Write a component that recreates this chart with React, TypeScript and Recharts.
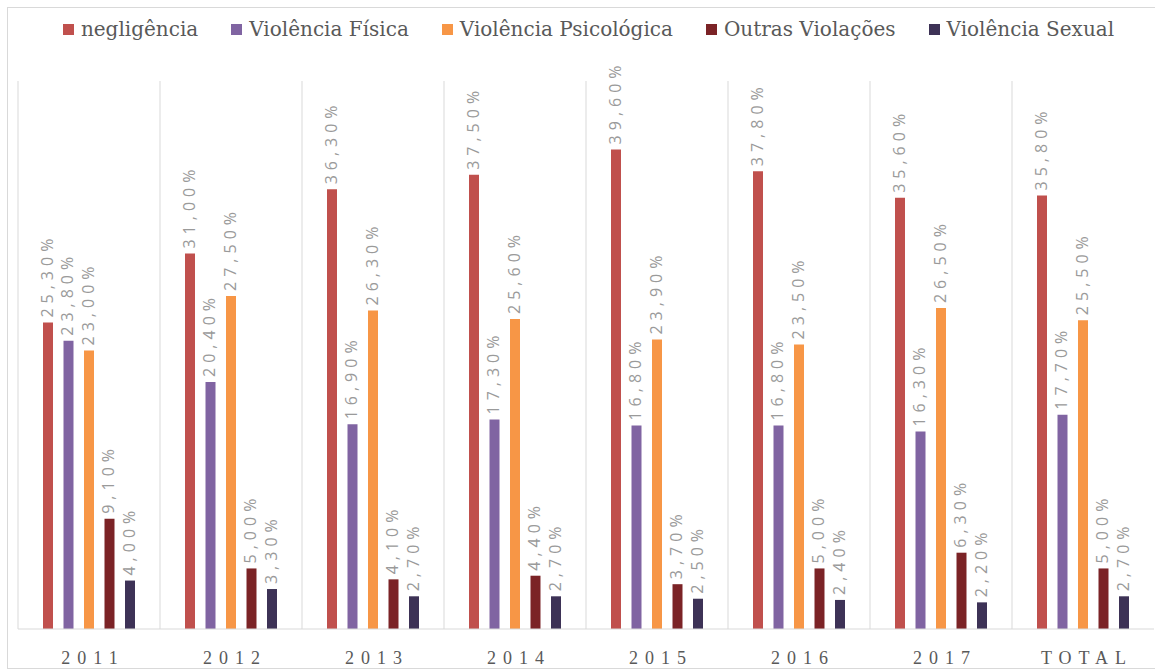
import { BarChart, Bar, XAxis, YAxis, Legend, LabelList } from "recharts";

const categories = ["2011", "2012", "2013", "2014", "2015", "2016", "2017", "TOTAL"];
const negligencia = [25.3, 31.0, 36.3, 37.5, 39.6, 37.8, 35.6, 35.8];
const violenciaFisica = [23.8, 20.4, 16.9, 17.3, 16.8, 16.8, 16.3, 17.7];
const violenciaPsicologica = [23.0, 27.5, 26.3, 25.6, 23.9, 23.5, 26.5, 25.5];
const outrasViolacoes = [9.1, 5.0, 4.1, 4.4, 3.7, 5.0, 6.3, 5.0];
const violenciaSexual = [4.0, 3.3, 2.7, 2.7, 2.5, 2.4, 2.2, 2.7];

const series = [
  { key: "neg", name: "negligência", color: "#c0504d", values: negligencia },
  { key: "fis", name: "Violência Física", color: "#8064a2", values: violenciaFisica },
  { key: "psi", name: "Violência Psicológica", color: "#f79646", values: violenciaPsicologica },
  { key: "out", name: "Outras Violações", color: "#7b2326", values: outrasViolacoes },
  { key: "sex", name: "Violência Sexual", color: "#3d3256", values: violenciaSexual },
];

const data = categories.map((c, i) => {
  const row: Record<string, string | number> = { category: c };
  series.forEach((s) => (row[s.key] = s.values[i]));
  return row;
});

const W = 1155;
const H = 672;
// plot area wanted: top ~84, bottom 629; legend and x axis (30px) are added by recharts
const M = { top: 60, right: 1, left: 18, bottom: 13 };
const PLOT_TOP = 84;
const BASE_Y = 629;
const BAND = (W - M.left - M.right) / categories.length;
const GRID = "#d9d9d9";

const fmt = (v: number) => v.toFixed(2).replace(".", ",") + "%";

function ValueLabel(props: any) {
  const { x, y, width, value } = props;
  const cx = x + width / 2 + 5;
  const ty = y - 5;
  return (
    <text
      x={cx}
      y={ty}
      transform={`rotate(-90 ${cx} ${ty})`}
      textAnchor="start"
      fill="#9a9a9a"
      fontFamily="'Open Sans', sans-serif"
      fontSize={16}
      letterSpacing={5}
    >
      {fmt(value)}
    </text>
  );
}

function CategoryTick(props: any) {
  const { x, payload } = props;
  const left = x - BAND / 2;
  return (
    <g>
      <line x1={left} x2={left} y1={PLOT_TOP - 3} y2={BASE_Y} stroke={GRID} strokeWidth={1} />
      <text
        x={x + 4}
        y={BASE_Y + 35}
        textAnchor="middle"
        fill="#595959"
        fontFamily="'Liberation Serif', serif"
        fontSize={18}
        letterSpacing={7}
      >
        {payload.value}
      </text>
    </g>
  );
}

function LegendContent() {
  return (
    <div
      style={{
        display: "flex",
        justifyContent: "center",
        gap: 33,
        paddingLeft: 22,
        fontFamily: "'DejaVu Serif', serif",
        fontSize: 20,
        color: "#595959",
      }}
    >
      {series.map((s) => (
        <div key={s.key} style={{ display: "flex", alignItems: "center", gap: 7 }}>
          <span style={{ width: 11, height: 11, background: s.color, display: "inline-block" }} />
          <span>{s.name}</span>
        </div>
      ))}
    </div>
  );
}

export default function App() {
  return (
    <div style={{ position: "absolute", left: 0, top: 0, width: W, height: H, background: "#fff", overflow: "hidden" }}>
      <div
        style={{
          position: "absolute",
          left: 7,
          top: 7,
          width: W,
          height: H - 10,
          border: `1px solid ${GRID}`,
          boxSizing: "border-box",
        }}
      />
      <div style={{ position: "absolute", left: 0, top: 0 }}>
        <BarChart width={W} height={H} data={data} margin={M} barSize={10} barGap={10.5}>
          <XAxis
            dataKey="category"
            axisLine={{ stroke: GRID }}
            tickLine={false}
            tick={<CategoryTick />}
            interval={0}
          />
          <YAxis hide domain={[0, 45]} />
          <Legend
            verticalAlign="top"
            content={<LegendContent />}
            wrapperStyle={{ top: 17, left: 0, width: W }}
          />
          {series.map((s) => (
            <Bar key={s.key} dataKey={s.key} name={s.name} fill={s.color} isAnimationActive={false}>
              <LabelList dataKey={s.key} content={<ValueLabel />} />
            </Bar>
          ))}
        </BarChart>
      </div>
    </div>
  );
}
